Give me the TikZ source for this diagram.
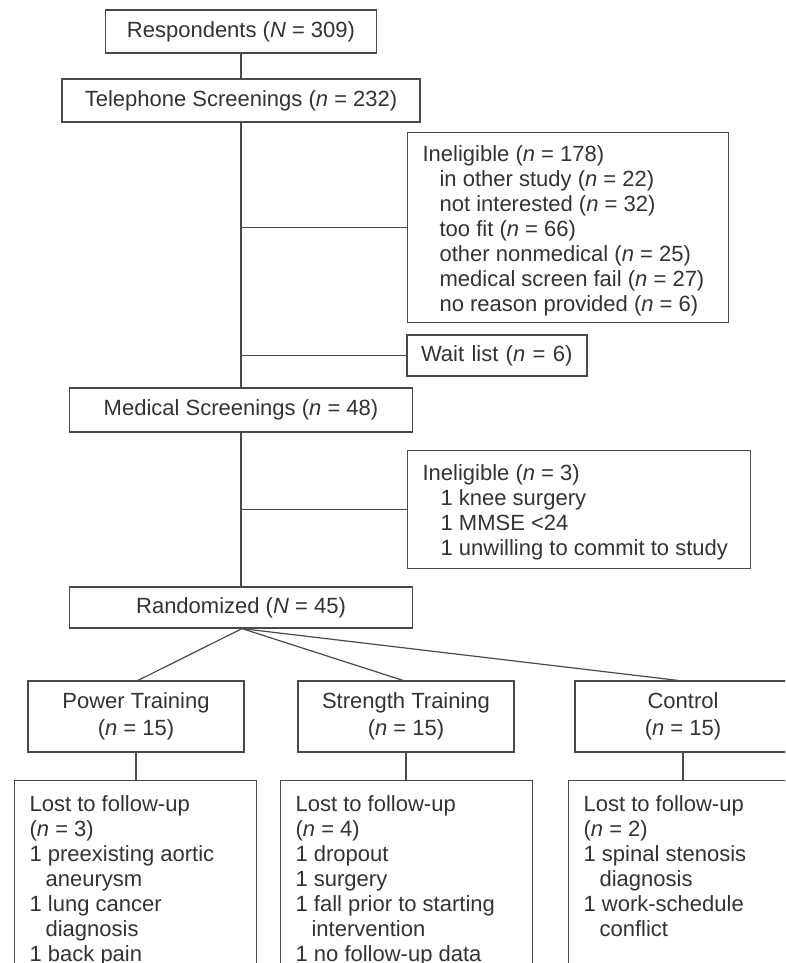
\documentclass[tikz,border=0pt]{standalone}
\usepackage{fontspec}
\setmainfont{Liberation Sans}
\usetikzlibrary{calc}
\definecolor{ink}{HTML}{333333}
\definecolor{rulec}{HTML}{4A4A4A}
\begin{document}
\begin{tikzpicture}[x=0.75pt,y=-0.75pt,
  every node/.style={font=\fontsize{16.5pt}{18.75pt}\selectfont, text=ink},
  box/.style={draw=rulec, line width=0.9pt, fill=white, inner sep=0pt, align=center},
  lbox/.style={draw=rulec, line width=0.9pt, fill=white, inner xsep=11.25pt, anchor=north west},
  conn/.style={draw=rulec, line width=0.9pt}]
\useasboundingbox (0,0) rectangle (785,963);
\clip (0,0) rectangle (785,963);

% main column
\node[box, minimum width=203.25pt, minimum height=32.25pt] (resp) at (241,31.5)
  {Respondents (\textit{N} = 309)};
\node[box, minimum width=268.5pt, minimum height=32.25pt] (tel) at (241,100.5)
  {Telephone Screenings (\textit{n} = 232)};
\node[box, minimum width=257.25pt, minimum height=33pt] (med) at (241,410)
  {Medical Screenings (\textit{n} = 48)};
\node[box, minimum width=257.25pt, minimum height=30.75pt] (rand) at (241,607.5)
  {Randomized (\textit{N} = 45)};

% side boxes
\node[lbox, inner ysep=9.75pt] (inel1) at (407,132)
  {\parbox[t][123pt][t]{218.25pt}{\raggedright
   Ineligible (\textit{n} = 178)\\
   \hspace*{12.75pt}in other study (\textit{n} = 22)\\
   \hspace*{12.75pt}not interested (\textit{n} = 32)\\
   \hspace*{12.75pt}too fit (\textit{n} = 66)\\
   \hspace*{12.75pt}other nonmedical (\textit{n} = 25)\\
   \hspace*{12.75pt}medical screen fail (\textit{n} = 27)\\
   \hspace*{12.75pt}no reason provided (\textit{n} = 6)}};
\node[box, minimum width=135pt, minimum height=30.75pt, inner xsep=10.5pt,
      text width=114pt, align=left] (wait) at (497,355.5)
  {\mbox{Wait list (\textit{n} = 6)}};
\node[lbox, inner ysep=10.5pt] (inel2) at (407,450)
  {\parbox[t][67.5pt][t]{234.75pt}{\raggedright
   Ineligible (\textit{n} = 3)\\
   \hspace*{13.5pt}1 knee surgery\\
   \hspace*{13.5pt}1 MMSE <24\\
   \hspace*{13.5pt}1 unwilling to commit to study}};

% groups
\node[box, minimum width=162pt, minimum height=53.25pt] (power) at (136,716.5)
  {Power Training\\[1.5pt](\textit{n} = 15)};
\node[box, minimum width=162pt, minimum height=53.25pt] (strength) at (406,716.5)
  {Strength Training\\[1.5pt](\textit{n} = 15)};
\node[box, minimum width=162pt, minimum height=53.25pt] (control) at (683,716.5)
  {Control\\[1.5pt](\textit{n} = 15)};

% lost to follow-up
\node[lbox, inner ysep=11.25pt] (plost) at (14,780)
  {\parbox[t][142.5pt][t]{159pt}{\raggedright
   Lost to follow-up\\
   (\textit{n} = 3)\\
   1 preexisting aortic\\
   \hspace*{12pt}aneurysm\\
   1 lung cancer\\
   \hspace*{12pt}diagnosis\\
   1 back pain}};
\node[lbox, inner ysep=11.25pt] (slost) at (280,780)
  {\parbox[t][142.5pt][t]{166.5pt}{\raggedright
   Lost to follow-up\\
   (\textit{n} = 4)\\
   1 dropout\\
   1 surgery\\
   1 fall prior to starting\\
   \hspace*{12pt}intervention\\
   1 no follow-up data}};
\node[lbox, inner ysep=11.25pt] (clost) at (568,780)
  {\parbox[t][142.5pt][t]{166.5pt}{\raggedright
   Lost to follow-up\\
   (\textit{n} = 2)\\
   1 spinal stenosis\\
   \hspace*{12pt}diagnosis\\
   1 work-schedule\\
   \hspace*{12pt}conflict}};

% connectors
\draw[conn] (resp.south) -- (tel.north);
\draw[conn] (tel.south) -- (med.north);
\draw[conn] (med.south) -- (rand.north);
\draw[conn] (tel.south |- inel1.west) -- (inel1.west);
\draw[conn] (tel.south |- wait.west) -- (wait.west);
\draw[conn] (med.south |- inel2.west) -- (inel2.west);
\coordinate (split) at ($(rand.south)+(1,0)$);
\draw[conn] (split) -- ($(power.north)+(2,0)$);
\draw[conn] (split) -- ($(strength.north)+(-3,0)$);
\draw[conn] (split) -- ($(control.north)+(-5,0)$);
\draw[conn] (power.south) -- (power.south |- plost.north);
\draw[conn] (strength.south) -- (strength.south |- slost.north);
\draw[conn] (control.south) -- (control.south |- clost.north);
\end{tikzpicture}
\end{document}
